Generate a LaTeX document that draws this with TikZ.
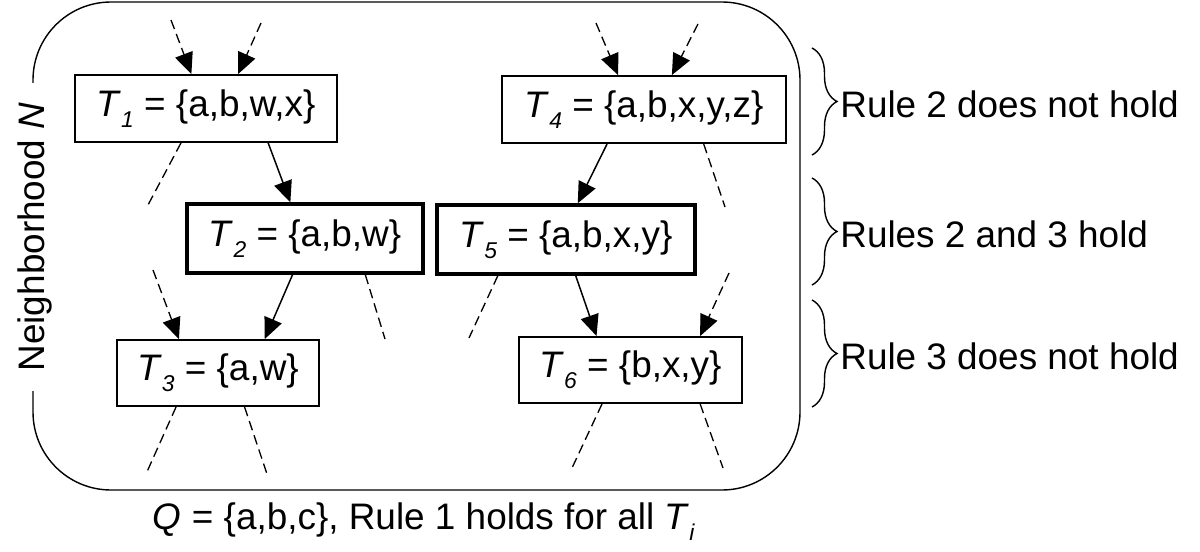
\documentclass[tikz,border=0pt]{standalone}
\usepackage{fontspec}
\setmainfont{Liberation Sans}
\usetikzlibrary{
arrows.meta,
calc,
decorations.pathreplacing,
positioning
}
\tikzset{
	tip/.tip={Triangle[length=12pt,width=10.5pt]},
	tbox/.style={draw,line width=1.1pt,inner sep=0pt,minimum height=1.34cm},
	tboxbold/.style={tbox,line width=2pt,minimum height=1.38cm},
	edge/.style={-tip,line width=0.85pt},
	dedge/.style={-tip,line width=0.75pt,dash pattern=on 5.5pt off 3pt},
	dline/.style={line width=0.75pt,dash pattern=on 5.5pt off 3pt},
	rulebrace/.style={decorate,decoration={brace,amplitude=0.5cm},line width=0.8pt}
}
\newcommand{\tsub}[2]{\textit{#1}\raisebox{-0.3em}{\fontsize{13}{13}\selectfont\textit{#2}}}

\begin{document}
\begin{tikzpicture}[x=0.02cm,y=-0.02cm,font=\fontsize{21}{25}\selectfont]
	\useasboundingbox (0,0) rectangle (1200,551);
	\draw[rounded corners=1.56cm,line width=0.8pt] (33,2) rectangle (800,490);
	\node[fill=white,rotate=90,inner xsep=0.4cm,inner ysep=2pt] (nbh) at (35,237) {Neighborhood \textit{N}};
	
	\node[tbox,minimum width=5.24cm]         (t1) at (206,108.5) {\tsub{T}{1} = \{a,b,w,x\}};
	\node[tboxbold,minimum width=4.72cm]     (t2) at (305,238.5) {\tsub{T}{2} = \{a,b,w\}};
	\node[tbox,minimum width=4.04cm,minimum height=1.32cm] (t3) at (218,373) {\tsub{T}{3} = \{a,w\}};
	\node[tbox,minimum width=5.68cm]         (t4) at (644,109.5) {\tsub{T}{4} = \{a,b,x,y,z\}};
	\node[tboxbold,minimum width=5.16cm]     (t5) at (566,239.5) {\tsub{T}{5} = \{a,b,x,y\}};
	\node[tbox,minimum width=4.46cm,minimum height=1.32cm] (t6) at (630.5,370) {\tsub{T}{6} = \{b,x,y\}};
	
	\coordinate (a1) at (171,20);
	\coordinate (a2) at (261,23);
	\coordinate (a3) at (153,270);
	\coordinate (a4) at (596,23);
	\coordinate (a5) at (698,24);
	\coordinate (a6) at (729,273);
	\coordinate (d1) at (148,205);
	\coordinate (d2) at (385,339);
	\coordinate (d3) at (146,474);
	\coordinate (d4) at (267,474);
	\coordinate (d5) at (725,207);
	\coordinate (d6) at (469,338);
	\coordinate (d7) at (572,468);
	\coordinate (d8) at (723,468);
	
	\draw[dedge] (a1) -- (t1.113);
	\draw[dedge] (a2) -- (t1.47);
	\draw[dline] (t1.234) -- (d1);
	\draw[edge] (t1.331) -- (t2.112);
	\draw[edge] (t2.251) -- (t3.36);
	\draw[dline] (t2.329) -- (d2);
	\draw[dedge] (a3) -- (t3.139);
	\draw[dline] (t3.219) -- (d3);
	\draw[dline] (t3.308) -- (d4);
	
	\draw[dedge] (a4) -- (t4.127);
	\draw[dedge] (a5) -- (t4.51);
	\draw[edge] (t4.223) -- (t5.72);
	\draw[dline] (t4.330) -- (d5);
	\draw[dline] (t5.208) -- (d6);
	\draw[edge] (t5.285) -- (t6.135);
	\draw[dedge] (a6) -- (t6.26);
	\draw[dline] (t6.230) -- (d7);
	\draw[dline] (t6.334) -- (d8);
	
	\coordinate (b1t) at (812,48);
	\coordinate (b1b) at (812,155);
	\coordinate (b2t) at (812,178);
	\coordinate (b2b) at (812,285);
	\coordinate (b3t) at (812,300);
	\coordinate (b3b) at (812,407);
	\draw[rulebrace] (b1t) -- (b1b);
	\draw[rulebrace] (b2t) -- (b2b);
	\draw[rulebrace] (b3t) -- (b3b);
	\node[anchor=west,inner sep=0pt] (r2) at (840,104) {Rule 2 does not hold};
	\node[anchor=west,inner sep=0pt] (r23) at (840,234) {Rules 2 and 3 hold};
	\node[anchor=west,inner sep=0pt] (r3) at (840,356) {Rule 3 does not hold};
	
	\node (q) at (424,522) {\textit{Q} = \{a,b,c\}, Rule 1 holds for all \tsub{T}{i}};
\end{tikzpicture}
\end{document}
